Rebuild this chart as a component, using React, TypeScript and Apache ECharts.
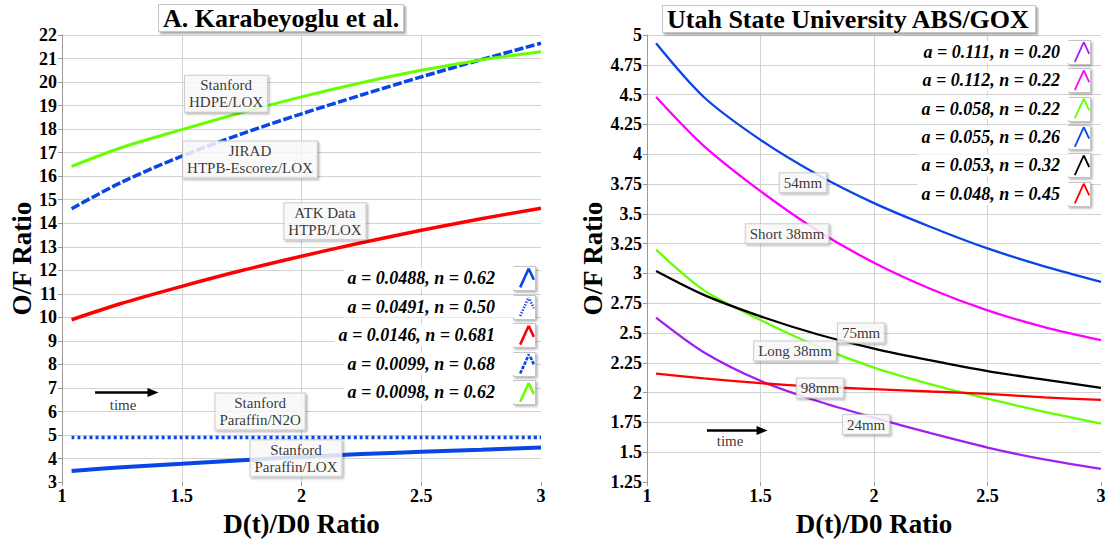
import React, { useEffect, useRef } from 'react';
import * as echarts from 'echarts';

// ---------- data ----------
const xs = [1.04, 1.25, 1.5, 1.75, 2, 2.25, 2.5, 2.75, 3];

// Left panel: A. Karabeyoglu et al.
const paraffinLox = [3.47, 3.63, 3.78, 3.93, 4.07, 4.19, 4.29, 4.38, 4.47];
const paraffinN2o = [4.9, 4.9, 4.9, 4.9, 4.9, 4.9, 4.9, 4.9, 4.9];
const atkHtpbLox = [9.9, 10.6, 11.32, 11.99, 12.6, 13.17, 13.7, 14.19, 14.64];
const jiradLox = [14.62, 15.75, 16.85, 17.8, 18.65, 19.45, 20.22, 20.95, 21.65];
const hdpeLox = [16.42, 17.22, 17.98, 18.7, 19.37, 19.97, 20.5, 20.94, 21.29];

const leftNames = [
  'a = 0.0488, n = 0.62',
  'a = 0.0491, n = 0.50',
  'a = 0.0146, n = 0.681',
  'a = 0.0099, n = 0.68',
  'a = 0.0098, n = 0.62',
];

// Right panel: Utah State University ABS/GOX
const mm24 = [2.63, 2.34, 2.1, 1.93, 1.79, 1.66, 1.54, 1.44, 1.36];
const short38 = [4.48, 4.07, 3.69, 3.36, 3.09, 2.87, 2.69, 2.55, 2.44];
const long38 = [3.2, 2.86, 2.61, 2.39, 2.21, 2.07, 1.95, 1.84, 1.74];
const mm54 = [4.93, 4.48, 4.12, 3.83, 3.59, 3.39, 3.21, 3.06, 2.93];
const mm75 = [3.02, 2.82, 2.64, 2.49, 2.37, 2.27, 2.18, 2.11, 2.04];
const mm98 = [2.16, 2.12, 2.08, 2.05, 2.03, 2.01, 1.99, 1.96, 1.94];

const rightNames = [
  'a = 0.111, n = 0.20',
  'a = 0.112, n = 0.22',
  'a = 0.058, n = 0.22',
  'a = 0.055, n = 0.26',
  'a = 0.053, n = 0.32',
  'a = 0.048, n = 0.45',
];

// annotations (data coordinates)
const leftNotes = [
  { text: 'Stanford\nHDPE/LOX', x: 1.685, y: 19.5 },
  { text: 'JIRAD\nHTPB-Escorez/LOX', x: 1.785, y: 16.71 },
  { text: 'ATK Data\nHTPB/LOX', x: 2.098, y: 14.09 },
  { text: 'Stanford\nParaffin/N2O', x: 1.827, y: 6.0 },
  { text: 'Stanford\nParaffin/LOX', x: 1.977, y: 4.01 },
];
const rightNotes = [
  { text: '54mm', x: 1.687, y: 3.76 },
  { text: 'Short 38mm', x: 1.617, y: 3.333 },
  { text: '75mm', x: 1.943, y: 2.5 },
  { text: 'Long 38mm', x: 1.652, y: 2.35 },
  { text: '98mm', x: 1.762, y: 2.04 },
  { text: '24mm', x: 1.965, y: 1.733 },
];
const leftArrow = [[1.138, 6.81], [1.38, 6.81]];
const leftTime = [1.255, 6.26];
const rightArrow = [[1.264, 1.683], [1.507, 1.683]];
const rightTime = [1.366, 1.592];

// ---------- styles ----------
const FONT = '"Liberation Serif", "Times New Roman", serif';
const BLUE = '#0a46e6';
const GREEN = '#66ff00';
const RED = '#ff0000';
const PURPLE = '#a020f0';
const MAGENTA = '#ff00ff';
const BLACK = '#000000';

const pair = (ys: number[]) => xs.map((x, i) => [x, ys[i]]);

// chevron legend icon, optionally dashed, as filled path
function chevron(w: number, dash?: [number, number]) {
  const pts = [[0, 22], [10, 0], [16, 13]];
  let d = '';
  const quad = (ax: number, ay: number, bx: number, by: number) => {
    const dx = bx - ax, dy = by - ay;
    const L = Math.hypot(dx, dy) || 1;
    const nx = (-dy / L) * w / 2, ny = (dx / L) * w / 2;
    d += `M${(ax + nx).toFixed(2)},${(ay + ny).toFixed(2)}L${(bx + nx).toFixed(2)},${(by + ny).toFixed(2)}L${(bx - nx).toFixed(2)},${(by - ny).toFixed(2)}L${(ax - nx).toFixed(2)},${(ay - ny).toFixed(2)}Z`;
  };
  if (!dash) {
    for (let i = 0; i < pts.length - 1; i++) quad(pts[i][0], pts[i][1], pts[i + 1][0], pts[i + 1][1]);
  } else {
    const [on, off] = dash;
    let pos = 0;
    for (let i = 0; i < pts.length - 1; i++) {
      const [ax, ay] = pts[i], [bx, by] = pts[i + 1];
      const L = Math.hypot(bx - ax, by - ay);
      let t = pos;
      while (t < L) {
        const t2 = Math.min(L, t + on);
        quad(ax + (bx - ax) * t / L, ay + (by - ay) * t / L, ax + (bx - ax) * t2 / L, ay + (by - ay) * t2 / L);
        t = t + on + off;
      }
      pos = t - L;
    }
  }
  // tiny anchors keep the same frame for every icon
  return 'path://M0,0L0.01,0L0,0.01ZM16,22L16,21.99L15.99,22Z' + d;
}

const labelBox = {
  show: true,
  position: 'inside',
  fontFamily: FONT,
  fontSize: 15,
  lineHeight: 17,
  color: '#000',
  backgroundColor: '#fff',
  borderColor: '#c4c4c4',
  borderWidth: 1,
  padding: [1, 4, 1, 4],
  shadowColor: 'rgba(0,0,0,0.35)',
  shadowBlur: 2,
  shadowOffsetX: 1.5,
  shadowOffsetY: 1.5,
};

const axisLabelStyle = {
  fontFamily: FONT,
  fontSize: 18,
  fontWeight: 'bold',
  color: '#000',
};

const nameStyle = {
  fontFamily: FONT,
  fontSize: 27,
  fontWeight: 'bold',
  color: '#000',
};

const makeX = (gridIndex: number) => ({
  type: 'value',
  gridIndex,
  min: 1,
  max: 3,
  interval: 0.5,
  name: 'D(t)/D0 Ratio',
  nameLocation: 'middle',
  nameGap: 24,
  nameTextStyle: nameStyle,
  axisLine: { show: false },
  axisTick: { show: true, length: 4, lineStyle: { color: '#999' } },
  axisLabel: { ...axisLabelStyle, margin: 5 },
  splitLine: { show: true, showMaxLine: false, lineStyle: { color: '#d2d2d2', width: 1 } },
});

const makeY = (gridIndex: number, min: number, max: number, interval: number, nameGap: number) => ({
  type: 'value',
  gridIndex,
  min,
  max,
  interval,
  name: 'O/F Ratio',
  nameLocation: 'middle',
  nameGap,
  nameTextStyle: nameStyle,
  axisLine: { show: true, lineStyle: { color: '#999', width: 1 } },
  axisTick: { show: true, length: 4, lineStyle: { color: '#999' } },
  axisLabel: { ...axisLabelStyle, margin: 5 },
  splitLine: { show: true, showMinLine: false, lineStyle: { color: '#d2d2d2', width: 1 } },
});

const lineSeries = (name: string, ys: number[], color: string, width: number, axis: number, type: any = 'solid') => ({
  type: 'line',
  name,
  xAxisIndex: axis,
  yAxisIndex: axis,
  data: pair(ys),
  smooth: 0.3,
  showSymbol: false,
  symbol: 'none',
  color,
  lineStyle: { color, width, type, cap: 'butt' },
  z: 2,
});

const noteSeries = (id: string, axis: number, notes: { text: string; x: number; y: number }[]) => ({
  type: 'scatter',
  id,
  name: id,
  xAxisIndex: axis,
  yAxisIndex: axis,
  symbolSize: 0,
  silent: true,
  z: 5,
  data: notes.map((n) => ({ name: n.text, value: [n.x, n.y] })),
  label: { ...labelBox, formatter: (p: any) => p.name },
});

// "time" arrow: a short black line series with an arrow-head symbol at its end
const arrowLine = (id: string, axis: number, arrow: number[][]) => ({
  type: 'line',
  id,
  name: id,
  xAxisIndex: axis,
  yAxisIndex: axis,
  silent: true,
  z: 5,
  color: '#000',
  lineStyle: { color: '#000', width: 2.5 },
  showSymbol: true,
  symbol: 'none',
  data: [
    { value: arrow[0], symbol: 'none' },
    { value: arrow[1], symbol: 'triangle', symbolSize: [9, 11], symbolRotate: -90, itemStyle: { color: '#000' } },
  ],
});

const timeText = (id: string, axis: number, time: number[]) => ({
  type: 'scatter',
  id,
  name: id,
  xAxisIndex: axis,
  yAxisIndex: axis,
  symbolSize: 0,
  silent: true,
  z: 5,
  data: [{ name: 'time', value: time }],
  label: { show: true, position: 'inside', formatter: 'time', fontFamily: FONT, fontSize: 15, color: '#000' },
});

const legendText = (padRight: number) => ({
  fontFamily: FONT,
  fontSize: 18,
  fontWeight: 'bold',
  fontStyle: 'italic',
  color: '#000',
  backgroundColor: '#fff',
  padding: [2, padRight, 2, 4],
});

const LEFT_ROW0 = 278;
const LEFT_PITCH = 28.6;
const RIGHT_ROW0 = 52;
const RIGHT_PITCH = 28.3;

const iconBoxes = (x: number, row0: number, pitch: number, n: number) =>
  Array.from({ length: n }, (_, i) => ({
    type: 'rect',
    z: 3,
    silent: true,
    shape: { x, y: Math.round(row0 + i * pitch - 12) + 0.5, width: 22, height: 24 },
    style: {
      fill: '#fff',
      stroke: '#c4c4c4',
      lineWidth: 1,
      shadowColor: 'rgba(0,0,0,0.3)',
      shadowBlur: 2,
      shadowOffsetX: 1.5,
      shadowOffsetY: 1.5,
    },
  }));

export default function App() {
  const ref = useRef<HTMLDivElement>(null);
  useEffect(() => {
    if (!ref.current) return;
    const chart = echarts.init(ref.current, undefined, { renderer: 'svg' });
    const leftIcons = [chevron(3), chevron(3, [1.6, 1.8]), chevron(3), chevron(3, [4, 1.5]), chevron(3)];
    const rightIcons = rightNames.map(() => chevron(2));
    const titleBox = {
      backgroundColor: '#fff',
      borderColor: '#c4c4c4',
      borderWidth: 1,
      padding: [1, 5, 1, 5],
      shadowColor: 'rgba(0,0,0,0.35)',
      shadowBlur: 2,
      shadowOffsetX: 2,
      shadowOffsetY: 2,
      textStyle: { fontFamily: FONT, fontSize: 26, fontWeight: 'bold', color: '#000' },
    };
    chart.setOption({
      animation: false,
      backgroundColor: '#fff',
      title: [
        { ...titleBox, text: 'A. Karabeyoglu et al.', left: 158, top: 4 },
        { ...titleBox, text: 'Utah State University ABS/GOX', left: 662, top: 5 },
      ],
      grid: [
        { left: 62, top: 35, width: 479, height: 449, containLabel: false },
        { left: 647, top: 35, width: 454, height: 449, containLabel: false },
      ],
      xAxis: [makeX(0), makeX(1)],
      yAxis: [makeY(0, 3, 22, 1, 25), makeY(1, 1.25, 5, 0.25, 41)],
      legend: [
        {
          data: leftNames.map((n, i) => ({ name: n, icon: leftIcons[i] })),
          orient: 'vertical',
          align: 'right',
          right: 574,
          top: LEFT_ROW0 - 11,
          itemWidth: 16,
          itemHeight: 22,
          itemGap: LEFT_PITCH - 22,
          padding: 0,
          selectedMode: false,
          itemStyle: { borderWidth: 0 },
          textStyle: legendText(19),
        },
        {
          data: rightNames.map((n, i) => ({ name: n, icon: rightIcons[i] })),
          orient: 'vertical',
          align: 'right',
          right: 19,
          top: RIGHT_ROW0 - 11,
          itemWidth: 16,
          itemHeight: 22,
          itemGap: RIGHT_PITCH - 22,
          padding: 0,
          selectedMode: false,
          itemStyle: { borderWidth: 0 },
          textStyle: legendText(9),
        },
      ],
      graphic: [
        ...iconBoxes(513.5, LEFT_ROW0, LEFT_PITCH, leftNames.length),
        ...iconBoxes(1068.5, RIGHT_ROW0, RIGHT_PITCH, rightNames.length),
      ],
      series: [
        lineSeries(leftNames[0], paraffinLox, BLUE, 4, 0),
        lineSeries(leftNames[1], paraffinN2o, BLUE, 3.5, 0, [3, 3]),
        lineSeries(leftNames[2], atkHtpbLox, RED, 3.5, 0),
        lineSeries(leftNames[3], jiradLox, BLUE, 3.5, 0, [9, 2.5]),
        lineSeries(leftNames[4], hdpeLox, GREEN, 3, 0),
        lineSeries(rightNames[0], mm24, PURPLE, 2.3, 1),
        lineSeries(rightNames[1], short38, MAGENTA, 2.3, 1),
        lineSeries(rightNames[2], long38, GREEN, 2.3, 1),
        lineSeries(rightNames[3], mm54, BLUE, 2.3, 1),
        lineSeries(rightNames[4], mm75, BLACK, 2.3, 1),
        lineSeries(rightNames[5], mm98, RED, 2.3, 1),
        noteSeries('notesLeft', 0, leftNotes),
        noteSeries('notesRight', 1, rightNotes),
        arrowLine('arrowLeft', 0, leftArrow),
        arrowLine('arrowRight', 1, rightArrow),
        timeText('timeLeft', 0, leftTime),
        timeText('timeRight', 1, rightTime),
      ],
    });
    return () => chart.dispose();
  }, []);
  return (
    <div
      ref={ref}
      style={{ position: 'fixed', left: 0, top: 0, width: 1109, height: 542, background: '#fff' }}
    />
  );
}
